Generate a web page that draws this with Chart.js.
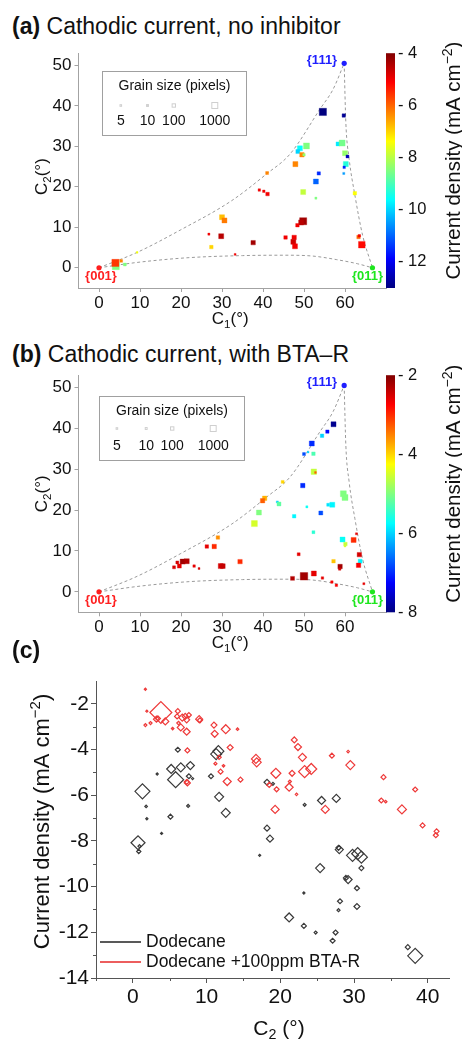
<!DOCTYPE html>
<html>
<head>
<meta charset="utf-8">
<script src="https://cdn.jsdelivr.net/npm/chart.js@4.4.0/dist/chart.umd.min.js"></script>
<style>
  html, body { margin: 0; padding: 0; background: #fff; }
  body { width: 462px; height: 1039px; position: relative; overflow: hidden;
         font-family: "Liberation Sans", Arial, sans-serif; color: #111; }
  .panel-title { position: absolute; left: 12px; font-size: 23px; line-height: 26px; white-space: nowrap; }
  canvas { position: absolute; left: 0; }
</style>
</head>
<body>
<div class="panel-title" style="top:13px"><b>(a)</b> Cathodic current, no inhibitor</div>
<canvas id="chartA" width="462" height="295" style="top:40px"></canvas>
<div class="panel-title" style="top:341px"><b>(b)</b> Cathodic current, with BTA–R</div>
<canvas id="chartB" width="462" height="300" style="top:362px"></canvas>
<div class="panel-title" style="top:637px"><b>(c)</b></div>
<canvas id="chartC" width="462" height="374" style="top:665px"></canvas>

<script>
const FONT = '"Liberation Sans", Arial, sans-serif';

// ---- grains, no inhibitor: C1, C2 (deg), current density (mA cm-2), grain size (pixels)
const noInhC1 = [54.6, 59.7, 50.6, 49.0, 48.5, 49.5, 50.0, 47.9, 41.0, 53.6, 52.9, 49.8, 52.9, 39.1, 40.2, 41.1,
  58.3, 59.3, 60.0, 60.6, 60.2, 59.8, 59.7, 62.4, 30.0, 30.6, 49.8, 49.3, 48.4, 26.8, 29.8, 37.6,
  45.5, 47.6, 47.4, 47.8, 27.4, 33.2, 63.3, 63.5, 64.1, 4.1, 4.0, 5.4, 6.3, 9.3];
const noInhC2 = [38.5, 37.6, 30.1, 29.5, 28.7, 27.9, 27.9, 25.6, 23.4, 23.3, 21.3, 18.7, 17.2, 19.2, 18.9, 18.2,
  30.6, 30.8, 28.3, 27.5, 25.6, 24.8, 23.3, 18.4, 12.5, 11.7, 11.5, 11.2, 10.5, 8.3, 7.8, 6.2,
  7.5, 7.5, 6.4, 5.3, 5.1, 3.3, 7.6, 7.9, 5.7, 0.4, 1.2, 1.7, 0.8, 3.8];
const noInhCurrent = [-13.0, -12.8, -8.5, -9.6, -10.0, -6.3, -8.3, -6.3, -6.3, -11.5, -11.0, -7.9, -8.5, -5.0, -5.0, -5.0,
  -9.8, -8.6, -8.3, -12.5, -9.3, -11.5, -10.5, -7.4, -6.8, -6.2, -4.3, -4.5, -5.0, -5.0, -4.5, -4.3,
  -5.0, -5.0, -4.7, -5.0, -7.0, -5.0, -6.0, -5.0, -5.2, -8.5, -5.6, -6.3, -8.5, -7.5];
const noInhGrain = [2200, 100, 1000, 500, 200, 300, 30, 500, 60, 100, 500, 500, 15, 30, 30, 120,
  200, 1000, 500, 60, 500, 30, 15, 120, 500, 500, 2000, 500, 120, 15, 500, 300,
  120, 300, 500, 500, 120, 10, 120, 30, 1500, 2000, 2000, 60, 60, 8];

// ---- grains, with BTA-R
const btaC1 = [57.2, 55.7, 54.4, 51.9, 51.0, 50.0, 52.3, 52.4, 52.8, 44.8, 49.7, 40.4, 39.9, 43.5, 43.9, 39.0,
  37.9, 50.7, 47.6, 54.1, 55.9, 56.9, 59.6, 60.0, 52.3, 59.4, 60.1, 60.0, 62.1, 62.8, 63.5, 63.7,
  63.3, 57.2, 58.8, 58.7, 48.7, 29.0, 26.3, 28.1, 34.4, 29.7, 30.2, 23.2, 24.4, 50.0, 47.2, 52.4,
  54.5, 56.8, 57.9, 64.6, 19.1, 20.4, 21.4, 18.3, 19.6];
const btaC2 = [41.0, 39.2, 38.2, 36.3, 34.2, 33.7, 33.8, 29.4, 29.2, 26.9, 26.0, 22.9, 22.3, 22.0, 21.5, 19.4,
  16.7, 20.8, 18.5, 19.3, 21.3, 21.3, 24.0, 23.1, 14.6, 12.8, 11.7, 11.2, 12.7, 14.2, 9.1, 7.5,
  6.5, 7.5, 6.2, 5.6, 9.2, 13.3, 11.1, 11.1, 7.4, 6.3, 6.3, 6.3, 5.7, 3.8, 3.3, 4.5,
  3.4, 2.4, 1.6, 2.0, 7.2, 7.4, 7.5, 6.0, 6.3];
const btaCurrent = [-7.9, -7.2, -6.0, -7.0, -6.0, -6.8, -5.3, -4.6, -3.3, -4.0, -7.0, -3.8, -3.3, -6.0, -5.2, -5.0,
  -4.5, -5.7, -5.8, -6.8, -5.9, -5.8, -5.0, -5.0, -5.5, -5.7, -4.6, -4.5, -3.0, -2.6, -2.5, -5.8,
  -2.7, -3.9, -2.2, -2.5, -2.6, -3.6, -2.6, -3.0, -3.0, -2.5, -2.4, -2.6, -2.5, -2.2, -2.3, -2.6,
  -2.6, -2.7, -2.7, -2.6, -2.5, -2.2, -2.3, -2.5, -2.6];
const btaGrain = [500, 100, 120, 500, 8, 60, 120, 700, 8, 60, 300, 300, 300, 15, 200, 500,
  1000, 15, 120, 200, 60, 500, 1000, 1000, 60, 500, 120, 8, 500, 15, 300, 200,
  300, 120, 300, 30, 60, 120, 120, 300, 300, 500, 400, 30, 10, 2500, 200, 500,
  30, 30, 30, 15, 60, 500, 500, 60, 200];

// ---- panel (c): current density against C2
const dodecaneC2 = [6.1, 11.3, 11.6, 5.2, 6.5, 7.8, 5.8, 7.6, 3.3, 8.1, 10.6, 1.3, 11.7, 1.8, 7.5, 12.6,
  5.1, 1.9, 18.2, 19.0, 23.3, 25.6, 27.6, 0.7, 0.9, 0.8, 3.9, 18.2, 18.6, 17.2, 28.0, 27.9,
  29.8, 30.5, 31.0, 31.0, 25.4, 29.2, 28.9, 30.4, 23.2, 28.1, 30.4, 27.9, 21.2, 23.2, 24.8, 27.5,
  27.1, 37.3, 38.3];
const dodecaneCurrent = [-4.01, -4.20, -4.07, -4.85, -4.78, -4.70, -5.32, -5.17, -5.07, -5.27, -5.17, -5.83, -6.07, -6.49, -6.47, -6.77,
  -6.94, -7.03, -5.43, -5.50, -6.42, -6.23, -6.14, -8.08, -8.23, -8.46, -7.67, -7.44, -7.90, -8.63, -8.38, -8.30,
  -8.63, -8.56, -8.71, -9.19, -9.19, -9.69, -9.62, -10.07, -10.28, -10.64, -10.87, -11.03, -11.35, -11.72, -12.01, -12.01,
  -12.37, -12.65, -13.03];
const dodecaneGrain = [60, 1400, 1400, 625, 625, 400, 6200, 60, 2, 2, 60, 4800, 625, 4, 8, 625,
  60, 2, 120, 8, 8, 400, 400, 3700, 8, 30, 2, 120, 230, 2, 400, 60,
  2000, 2000, 2000, 60, 625, 400, 60, 60, 2, 60, 120, 8, 625, 60, 8, 60,
  60, 60, 4800];

const btaRC2 = [1.7, 3.8, 1.9, 3.2, 3.4, 4.4, 2.4, 1.7, 6.1, 6.0, 6.7, 7.1, 7.6, 7.3, 6.2, 6.5,
  7.3, 5.4, 9.0, 9.1, 11.0, 11.1, 12.6, 14.2, 13.2, 7.4, 11.7, 11.2, 12.3, 11.9, 12.8, 7.4,
  7.3, 14.6, 16.7, 16.8, 19.4, 21.6, 18.5, 19.5, 21.2, 21.3, 22.2, 21.9, 22.4, 23.0, 23.3, 24.2,
  27.0, 29.2, 29.5, 34.0, 38.3, 33.7, 34.3, 36.5, 26.1, 19.3, 39.3, 41.2, 41.1];
const btaRCurrent = [-1.36, -2.38, -2.32, -2.67, -2.64, -2.77, -2.84, -2.93, -2.32, -2.55, -2.60, -2.55, -2.49, -2.70, -2.84, -3.03,
  -3.22, -3.08, -2.67, -2.72, -2.93, -3.31, -3.11, -3.11, -3.91, -4.04, -4.34, -4.62, -4.71, -4.97, -5.40, -5.46,
  -5.42, -5.32, -4.41, -4.56, -5.04, -5.04, -5.55, -5.74, -5.65, -5.40, -5.96, -3.58, -3.89, -4.34, -4.97, -4.85,
  -4.27, -4.09, -4.68, -5.21, -5.75, -6.23, -6.28, -6.62, -6.62, -6.62, -7.32, -7.58, -7.75];
const btaRGrain = [2, 22000, 2, 120, 60, 230, 8, 8, 60, 60, 230, 120, 60, 120, 15, 230,
  230, 4, 230, 60, 120, 230, 625, 4, 120, 60, 30, 8, 4, 60, 400, 120,
  60, 60, 625, 625, 950, 120, 60, 60, 400, 8, 4, 120, 230, 400, 2000, 1400,
  60, 4, 625, 60, 60, 60, 4, 625, 400, 400, 60, 60, 60];

// ---- triangle frame
const poleNames = ['{001}', '{111}', '{011}'];
const poleC1 = [0, 59.8, 66.7];
const poleC2 = [0, 50.5, 0];
const poleColors = ['#ff1f1f', '#1f1fff', '#1ee61e'];
const edge001to111 = [[0, 0], [9.3, 3.8], [19.8, 9.3], [32.4, 16.6], [40.9, 23.2], [46.6, 28.1], [53.9, 39.2], [57.1, 44.1], [59.8, 50.5]];
const edge111to011 = [[59.8, 50.5], [60.2, 36], [61, 27], [62.4, 18], [64.3, 8], [66.7, 0]];
const edge001to011 = [[0, 0], [10, 1.4], [22, 2.5], [35, 3.0], [45, 3.1], [52, 2.9], [58, 2.0], [63, 1.0], [66.7, 0]];

// ---- ticks
const triXTicks = [0, 10, 20, 30, 40, 50, 60];
const triYTicks = [0, 10, 20, 30, 40, 50];
const cbTicksA = [-12, -10, -8, -6, -4];
const cbTicksB = [-8, -6, -4, -2];
const grainLegendSizes = [5, 10, 100, 1000];
const cXTicks = [0, 10, 20, 30, 40];
const cYTicks = [-14, -12, -10, -8, -6, -4, -2];
const cMinorX = [-5, 5, 15, 25, 35];
const cMinorY = [-13, -11, -9, -7, -5, -3];

Chart.defaults.font.family = FONT;
Chart.defaults.color = '#111';

function grainRadius(g) { return 0.75 * Math.pow(g, 0.25); }
function diamondRadius(g) { return 0.9 * Math.pow(g, 0.25); }

function jet(t) {
  t = Math.max(0, Math.min(1, t));
  const c = v => Math.round(255 * Math.max(0, Math.min(1, v)));
  return [c(1.5 - Math.abs(4 * t - 3)), c(1.5 - Math.abs(4 * t - 2)), c(1.5 - Math.abs(4 * t - 1))];
}
function rgba(c, a) { return `rgba(${c[0]},${c[1]},${c[2]},${a})`; }

// text with sub/superscript parts, centred on (x, y)
function drawRich(ctx, parts, x, y, size, angle) {
  ctx.save();
  ctx.translate(x, y);
  ctx.rotate(angle || 0);
  const fonts = parts.map(p => `${(p.sub || p.sup) ? size * 0.68 : size}px ${FONT}`);
  let total = 0;
  const widths = parts.map((p, i) => { ctx.font = fonts[i]; const w = ctx.measureText(p.t).width; total += w; return w; });
  let cx = -total / 2;
  ctx.fillStyle = '#111';
  ctx.textAlign = 'left';
  ctx.textBaseline = 'alphabetic';
  parts.forEach((p, i) => {
    ctx.font = fonts[i];
    const dy = p.sub ? size * 0.22 : p.sup ? -size * 0.4 : 0;
    ctx.fillText(p.t, cx, size * 0.36 + dy);
    cx += widths[i];
  });
  ctx.restore();
}

const axisTitles = {
  id: 'axisTitles',
  afterDraw(chart, args, opts) {
    (opts.items || []).forEach(it => {
      const a = chart.chartArea;
      drawRich(chart.ctx, it.parts, it.x(a), it.y(a), it.size, it.angle);
    });
  }
};

// colour bar drawn along the 'cb' scale, with its tick labels
const colorbar = {
  id: 'colorbar',
  afterDraw(chart, args, opts) {
    const s = chart.scales.cb;
    if (!s) return;
    const ctx = chart.ctx;
    const grad = ctx.createLinearGradient(0, s.bottom, 0, s.top);
    for (let i = 0; i <= 32; i++) grad.addColorStop(i / 32, rgba(jet(i / 32), 1));
    ctx.save();
    ctx.fillStyle = grad;
    ctx.fillRect(s.left, s.top, opts.barWidth, s.bottom - s.top);
    ctx.fillStyle = '#111';
    ctx.font = `${opts.size}px ${FONT}`;
    ctx.textAlign = 'left';
    ctx.textBaseline = 'middle';
    s.ticks.forEach(t => {
      ctx.fillText('- ' + Math.abs(t.value), s.left + opts.barWidth + 3, s.getPixelForValue(t.value));
    });
    ctx.restore();
  }
};

const grainLegend = {
  id: 'grainLegend',
  afterDraw(chart, args, o) {
    if (!o.box) return;
    const ctx = chart.ctx, a = chart.chartArea;
    const x0 = Math.round(a.left + o.box.dx) + 0.5, y0 = Math.round(a.top + o.box.dy) + 0.5;
    ctx.save();
    ctx.fillStyle = '#fff';
    ctx.fillRect(x0, y0, o.box.w, o.box.h);
    ctx.strokeStyle = '#a0a0a0';
    ctx.lineWidth = 1;
    ctx.strokeRect(x0, y0, o.box.w, o.box.h);
    ctx.fillStyle = '#111';
    ctx.textAlign = 'center';
    ctx.textBaseline = 'middle';
    ctx.font = `14px ${FONT}`;
    ctx.fillText('Grain size (pixels)', x0 + o.box.w / 2, y0 + 15);
    grainLegendSizes.forEach((g, i) => {
      const cx = x0 + o.cols[i];
      const h = grainRadius(g) * Math.SQRT1_2;
      ctx.strokeStyle = '#cfcfcf';
      ctx.strokeRect(cx - h, y0 + o.markY - h, 2 * h, 2 * h);
      ctx.fillStyle = '#111';
      ctx.fillText(String(g), cx, y0 + 50);
    });
    ctx.restore();
  }
};

const poleLabels = {
  id: 'poleLabels',
  afterDatasetsDraw(chart, args, o) {
    const idx = chart.data.datasets.findIndex(d => d.poles);
    if (idx < 0) return;
    const meta = chart.getDatasetMeta(idx);
    const ctx = chart.ctx;
    ctx.save();
    ctx.font = `bold 13px ${FONT}`;
    ctx.textBaseline = 'middle';
    meta.data.forEach((pt, i) => {
      const off = o.offsets[i];
      ctx.textAlign = off.align;
      ctx.fillStyle = poleColors[i];
      ctx.fillText(poleNames[i], pt.x + off.dx, pt.y + off.dy);
    });
    ctx.restore();
  }
};

const minorTicks = {
  id: 'minorTicks',
  afterDraw(chart, args, o) {
    if (!o.x) return;
    const ctx = chart.ctx, xs = chart.scales.x, ys = chart.scales.y;
    ctx.save();
    ctx.strokeStyle = o.color;
    ctx.lineWidth = 1;
    ctx.beginPath();
    o.x.forEach(v => { const p = Math.round(xs.getPixelForValue(v)) + 0.5; ctx.moveTo(p, ys.bottom); ctx.lineTo(p, ys.bottom + o.len); });
    o.y.forEach(v => { const p = Math.round(ys.getPixelForValue(v)) + 0.5; ctx.moveTo(xs.left, p); ctx.lineTo(xs.left - o.len, p); });
    ctx.stroke();
    ctx.restore();
  }
};

const lineLegend = {
  id: 'lineLegend',
  afterDraw(chart, args, o) {
    if (!o.items) return;
    const ctx = chart.ctx, a = chart.chartArea;
    ctx.save();
    ctx.font = `${o.size}px ${FONT}`;
    ctx.textBaseline = 'middle';
    ctx.textAlign = 'left';
    o.items.forEach((it, i) => {
      const y = a.bottom - o.bottom + i * o.gap;
      ctx.strokeStyle = it.color;
      ctx.lineWidth = 1.5;
      ctx.beginPath();
      ctx.moveTo(a.left + 4, y);
      ctx.lineTo(a.left + 45, y);
      ctx.stroke();
      ctx.fillStyle = '#111';
      ctx.fillText(it.label, a.left + 50, y);
    });
    ctx.restore();
  }
};

Chart.register(axisTitles, colorbar, grainLegend, poleLabels, minorTicks, lineLegend);

const fixedTicks = list => scale => { scale.ticks = list.map(v => ({ value: v })); };

function edgeDataset(pts) {
  return {
    data: pts.map(p => ({ x: p[0], y: p[1] })),
    showLine: true, pointRadius: 0, borderColor: '#9a9a9a', borderWidth: 1,
    borderDash: [3, 2.5], cubicInterpolationMode: 'monotone', order: 3
  };
}

function triangleChart(id, c1, c2, current, grain, cbMin, cbMax, cbTicks, cfg) {
  const colors = current.map(j => jet((j - cbMin) / (cbMax - cbMin)));
  const axisGray = '#a3a3a3';
  return new Chart(document.getElementById(id), {
    type: 'scatter',
    data: {
      datasets: [
        {
          data: c1.map((x, i) => ({ x, y: c2[i] })),
          pointStyle: 'rect',
          pointRadius: grain.map(grainRadius),
          backgroundColor: colors.map(c => rgba(c, 1)),
          borderColor: colors.map(c => rgba(c, 0.35)),
          borderWidth: 1,
          order: 0
        },
        {
          poles: true,
          data: poleC1.map((x, i) => ({ x, y: poleC2[i] })),
          pointStyle: 'circle', pointRadius: 2.6, borderWidth: 0,
          backgroundColor: poleColors, order: 1
        },
        edgeDataset(edge001to111),
        edgeDataset(edge111to011),
        edgeDataset(edge001to011)
      ]
    },
    options: {
      responsive: false, animation: false, events: [],
      layout: { padding: { top: cfg.top, left: 0, right: 0, bottom: 0 } },
      plugins: {
        legend: { display: false }, tooltip: { enabled: false },
        colorbar: { barWidth: 9, size: 16.5 },
        grainLegend: cfg.legend,
        poleLabels: {
          offsets: [
            { dx: 2, dy: 9, align: 'center' },
            { dx: -7, dy: -3, align: 'right' },
            { dx: -5, dy: 9, align: 'center' }
          ]
        },
        axisTitles: {
          items: [
            { parts: [{ t: 'C' }, { t: '1', sub: true }, { t: '(°)' }], size: 17,
              x: a => (a.left + a.right) / 2 - 2, y: a => a.bottom + 30 },
            { parts: [{ t: 'C' }, { t: '2', sub: true }, { t: '(°)' }], size: 17, angle: -Math.PI / 2,
              x: a => 41, y: a => (a.top + a.bottom) / 2 + cfg.yTitleShift },
            { parts: [{ t: 'Current density (mA cm' }, { t: '−2', sup: true }, { t: ')' }], size: 20.5, angle: -Math.PI / 2,
              x: a => 453, y: a => (a.top + a.bottom) / 2 - 10 }
          ]
        }
      },
      scales: {
        x: {
          type: 'linear', min: -5, max: 70,
          afterBuildTicks: fixedTicks(triXTicks),
          afterFit: s => { s.height = cfg.xHeight; },
          grid: { drawOnChartArea: false, tickLength: 4, color: axisGray, tickColor: axisGray },
          border: { color: axisGray },
          ticks: { font: { size: 17 }, padding: 1, maxRotation: 0, color: '#111' }
        },
        y: {
          type: 'linear', min: -5, max: 53,
          afterBuildTicks: fixedTicks(triYTicks),
          afterFit: s => { s.width = 78.5; },
          grid: { drawOnChartArea: false, tickLength: 4, color: axisGray, tickColor: axisGray },
          border: { color: axisGray },
          ticks: { font: { size: 17 }, padding: 3, color: '#111' }
        },
        cb: {
          axis: 'y', type: 'linear', position: 'right', min: cbMin, max: cbMax,
          afterBuildTicks: fixedTicks(cbTicks),
          afterFit: s => { s.width = 76; },
          grid: { display: false, drawTicks: false },
          border: { display: false },
          ticks: { display: false }
        }
      }
    }
  });
}

triangleChart('chartA', noInhC1, noInhC2, noInhCurrent, noInhGrain, -13, -4, cbTicksA, {
  top: 12, xHeight: 47, yTitleShift: 6,
  legend: { box: { dx: 23, dy: 18, w: 144, h: 64 }, cols: [18.3, 45, 71.3, 112.3], markY: 34 }
});

triangleChart('chartB', btaC1, btaC2, btaCurrent, btaGrain, -8, -2, cbTicksB, {
  top: 11.5, xHeight: 49.7, yTitleShift: 0,
  legend: { box: { dx: 20, dy: 21, w: 145, h: 64 }, cols: [17.4, 46.7, 72.7, 113.7], markY: 32 }
});

// ---- panel (c)
const darkLine = '#3a3a3a';
const redLine = '#ee3a3a';
const cAxis = '#555';

new Chart(document.getElementById('chartC'), {
  type: 'scatter',
  data: {
    datasets: [
      {
        label: 'Dodecane +100ppm BTA-R',
        data: btaRC2.map((x, i) => ({ x, y: btaRCurrent[i] })),
        pointStyle: 'rectRot', pointRadius: btaRGrain.map(diamondRadius),
        borderColor: redLine, backgroundColor: 'rgba(0,0,0,0)', borderWidth: 1.2, order: 0
      },
      {
        label: 'Dodecane',
        data: dodecaneC2.map((x, i) => ({ x, y: dodecaneCurrent[i] })),
        pointStyle: 'rectRot', pointRadius: dodecaneGrain.map(diamondRadius),
        borderColor: darkLine, backgroundColor: 'rgba(0,0,0,0)', borderWidth: 1.2, order: 1
      }
    ]
  },
  options: {
    responsive: false, animation: false, events: [],
    layout: { padding: { top: 16, left: 0, right: 12, bottom: 0 } },
    plugins: {
      legend: { display: false }, tooltip: { enabled: false },
      minorTicks: { x: cMinorX, y: cMinorY, len: 3, color: cAxis },
      lineLegend: {
        size: 17.5, bottom: 36, gap: 20,
        items: [{ label: 'Dodecane', color: '#222' }, { label: 'Dodecane +100ppm BTA-R', color: '#e62828' }]
      },
      axisTitles: {
        items: [
          { parts: [{ t: 'C' }, { t: '2', sub: true }, { t: ' (°)' }], size: 21,
            x: a => 279, y: a => 362 },
          { parts: [{ t: 'Current density (mA cm' }, { t: '−2', sup: true }, { t: ')' }], size: 22, angle: -Math.PI / 2,
            x: a => 41, y: a => (a.top + a.bottom) / 2 - 8 }
        ]
      }
    },
    scales: {
      x: {
        type: 'linear', min: -5, max: 43,
        afterBuildTicks: fixedTicks(cXTicks),
        afterFit: s => { s.height = 61; },
        grid: { drawOnChartArea: false, tickLength: 5, color: cAxis, tickColor: cAxis },
        border: { color: cAxis },
        ticks: { font: { size: 21 }, padding: 2, maxRotation: 0, color: '#111' }
      },
      y: {
        type: 'linear', min: -14, max: -1,
        afterBuildTicks: fixedTicks(cYTicks),
        afterFit: s => { s.width = 96; },
        grid: { drawOnChartArea: false, tickLength: 5, color: cAxis, tickColor: cAxis },
        border: { color: cAxis },
        ticks: { font: { size: 21 }, padding: 2, color: '#111' }
      }
    }
  }
});
</script>
</body>
</html>
